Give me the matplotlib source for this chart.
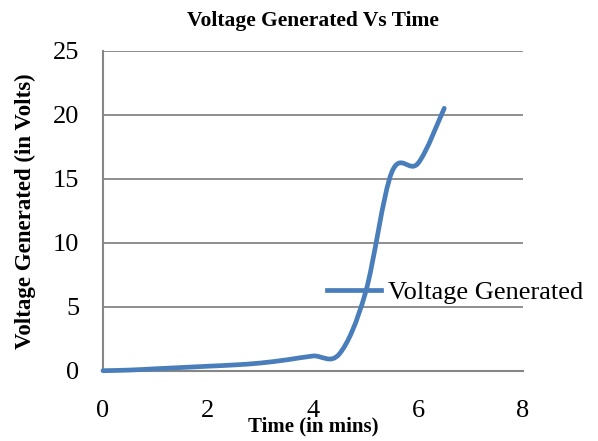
import numpy as np
import matplotlib
matplotlib.use('Agg')
import matplotlib.pyplot as plt
from matplotlib.path import Path
from matplotlib.patches import PathPatch
from matplotlib.lines import Line2D

plt.rcParams['font.family'] = ['Liberation Serif', 'DejaVu Serif']

# ---- data ----
time_mins = [0, 0.5, 1, 1.5, 2, 2.5, 3, 3.5, 4, 4.5, 5, 5.5, 6, 6.5]
voltage = [0, 0.05, 0.15, 0.25, 0.35, 0.45, 0.6, 0.85, 1.15, 1.3, 6.1, 15.5, 16.2, 20.5]

x_ticks = [0, 2, 4, 6, 8]
y_ticks = [0, 5, 10, 15, 20, 25]

line_color = '#4a7ebb'
grid_color = '#868686'


def smooth_path(xs, ys):
    # Excel style smoothed line: cubic bezier through every point
    xs = np.asarray(xs, float)
    ys = np.asarray(ys, float)
    n = len(xs)
    verts = [(xs[0], ys[0])]
    codes = [Path.MOVETO]
    for i in range(n - 1):
        i0 = max(i - 1, 0)
        i3 = min(i + 2, n - 1)
        c1 = (xs[i] + (xs[i + 1] - xs[i0]) / 6, ys[i] + (ys[i + 1] - ys[i0]) / 6)
        c2 = (xs[i + 1] - (xs[i3] - xs[i]) / 6, ys[i + 1] - (ys[i3] - ys[i]) / 6)
        verts += [c1, c2, (xs[i + 1], ys[i + 1])]
        codes += [Path.CURVE4] * 3
    return Path(verts, codes)


fig = plt.figure(figsize=(5.98, 4.41), dpi=100)
ax = fig.add_axes([0.1722, 0.1594, 0.7024, 0.7256])

patch = PathPatch(smooth_path(time_mins, voltage), facecolor='none',
                  edgecolor=line_color, lw=3.4, capstyle='round',
                  joinstyle='round', zorder=3, clip_on=False)
ax.add_patch(patch)

ax.set_xlim(0, 8)
ax.set_ylim(0, 25)
ax.set_xticks(x_ticks)
ax.set_yticks(y_ticks)
ax.tick_params(length=0, labelsize=19)
ax.tick_params(axis='y', pad=17)
ax.tick_params(axis='x', pad=21)

ax.grid(axis='y', color=grid_color, lw=1.3)
ax.set_axisbelow(True)
for side in ['top', 'right']:
    ax.spines[side].set_visible(False)
for side in ['left', 'bottom']:
    ax.spines[side].set_color(grid_color)
    ax.spines[side].set_linewidth(1.5)

ax.set_title('Voltage Generated Vs Time', fontsize=15.5, fontweight='bold', pad=18)
ax.set_xlabel('Time (in mins)', fontsize=15, fontweight='bold', labelpad=-4)
ax.set_ylabel('Voltage Generated (in Volts)', fontsize=16.5, fontweight='bold', labelpad=12)

handle = Line2D([], [], color=line_color, lw=3.4)
ax.legend([handle], ['Voltage Generated'], loc='center left',
          bbox_to_anchor=(327 / 598, 1 - 292.5 / 441), bbox_transform=fig.transFigure,
          frameon=False, fontsize=19, handlelength=2.05, handletextpad=0.27,
          borderpad=0, borderaxespad=0)

fig.savefig('out.png', dpi=100)
